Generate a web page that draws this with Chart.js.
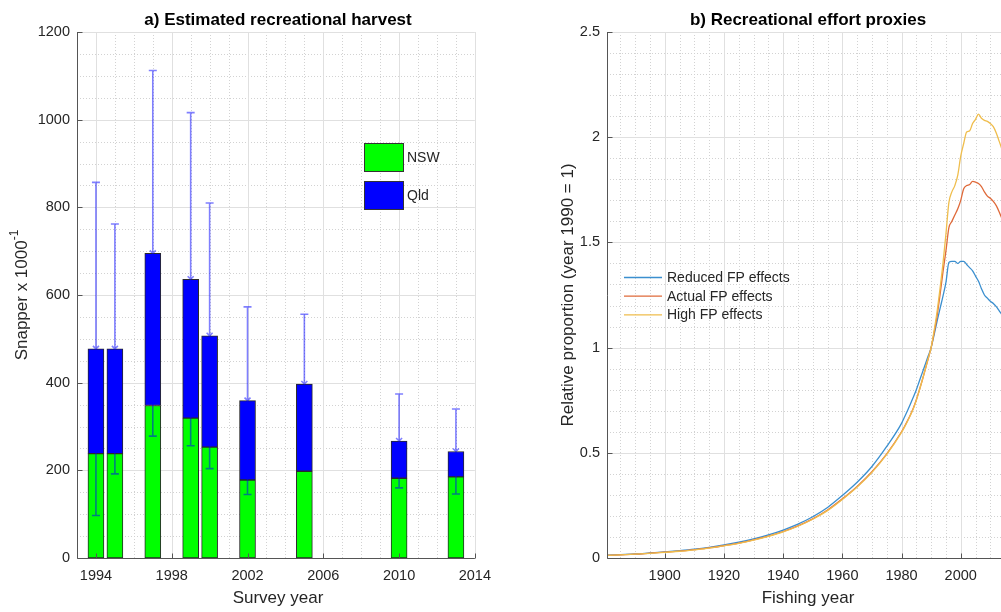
<!DOCTYPE html>
<html>
<head>
<meta charset="utf-8">
<script src="https://cdn.jsdelivr.net/npm/chart.js@4/dist/chart.umd.min.js"></script>
<style>
  html, body { margin: 0; padding: 0; background: #fff; overflow: hidden; }
  #wrap { position: relative; width: 1001px; height: 612px; }
  canvas { position: absolute; top: 0; }
  #harvest { left: 0; width: 500px; height: 612px; }
  #effort { left: 500px; width: 501px; height: 612px; }
</style>
</head>
<body>
<div id="wrap">
  <canvas id="harvest" width="500" height="612"></canvas>
  <canvas id="effort" width="501" height="612"></canvas>
</div>
<script>
// ---- Panel a: estimated recreational harvest (thousands of snapper) ----
const surveyYears  = [1994, 1995, 1997, 1999, 2000, 2002, 2005, 2010, 2013];
const nswHarvest   = [238, 238, 348, 319, 253, 178, 198, 182, 185];
const qldHarvest   = [239, 239, 347, 317, 254, 181, 199, 85, 58];
const harvestError = [380, 285, 417, 380, 303, 214, 159, 107, 97];
const surveyTicks  = [1994, 1998, 2002, 2006, 2010, 2014];
const harvestTicks = [0, 200, 400, 600, 800, 1000, 1200];

// ---- Panel b: recreational effort proxies (relative to 1990) ----
const fishingYears = [
  1880, 1885, 1890, 1895, 1900, 1905, 1910, 1915, 1920, 1925,
  1930, 1935, 1940, 1945, 1950, 1955, 1960, 1965, 1970, 1975,
  1980, 1981, 1982, 1983, 1984, 1985, 1986, 1987, 1988, 1989,
  1990, 1991, 1992, 1993, 1994, 1995, 1996, 1997, 1998, 1999,
  2000, 2001, 2002, 2003, 2004, 2005, 2006, 2007, 2008, 2009,
  2010, 2011, 2012, 2013, 2014
];
const reducedFP = [
  0.013, 0.016, 0.019, 0.024, 0.029, 0.035, 0.042, 0.051, 0.062, 0.075,
  0.091, 0.110, 0.133, 0.161, 0.196, 0.240, 0.297, 0.360, 0.435, 0.530,
  0.640, 0.670, 0.700, 0.732, 0.765, 0.800, 0.840, 0.880, 0.920, 0.960,
  1.000, 1.060, 1.125, 1.185, 1.245, 1.310, 1.405, 1.410, 1.410, 1.400,
  1.410, 1.410, 1.395, 1.380, 1.365, 1.340, 1.315, 1.280, 1.250, 1.235,
  1.220, 1.210, 1.195, 1.175, 1.155
];
const actualFP = [
  0.012, 0.015, 0.018, 0.023, 0.028, 0.033, 0.040, 0.048, 0.059, 0.071,
  0.086, 0.104, 0.126, 0.153, 0.186, 0.228, 0.281, 0.340, 0.410, 0.495,
  0.600, 0.625, 0.652, 0.681, 0.713, 0.752, 0.797, 0.845, 0.895, 0.947,
  1.000, 1.070, 1.150, 1.250, 1.360, 1.460, 1.570, 1.600, 1.630, 1.660,
  1.700, 1.755, 1.770, 1.775, 1.790, 1.787, 1.780, 1.765, 1.740, 1.720,
  1.710, 1.695, 1.675, 1.645, 1.610
];
const highFP = [
  0.012, 0.015, 0.018, 0.022, 0.027, 0.032, 0.039, 0.047, 0.058, 0.070,
  0.085, 0.103, 0.124, 0.151, 0.184, 0.225, 0.278, 0.337, 0.407, 0.492,
  0.597, 0.622, 0.649, 0.678, 0.711, 0.750, 0.796, 0.845, 0.896, 0.948,
  1.000, 1.080, 1.170, 1.280, 1.400, 1.540, 1.690, 1.740, 1.770, 1.820,
  1.910, 1.970, 2.025, 2.030, 2.065, 2.085, 2.110, 2.090, 2.080, 2.075,
  2.065, 2.050, 2.020, 1.980, 1.940
];
const fishingTicks    = [1900, 1920, 1940, 1960, 1980, 2000];
const proportionTicks = [0, 0.5, 1, 1.5, 2, 2.5];

const FONT = '"Liberation Sans", Arial, Helvetica, sans-serif';
const INK = '#262626';

function steps(min, max, step) {
  const out = [];
  for (let k = Math.ceil(min / step - 1e-9); k * step <= max + 1e-9; k++) out.push(k * step);
  return out;
}

// Grid (minor dotted, major solid), axis lines and inward tick marks
const axesFrame = {
  id: 'axesFrame',
  beforeDatasetsDraw(chart, _args, o) {
    const { ctx, chartArea: a, scales: { x, y } } = chart;
    const px = v => Math.round(x.getPixelForValue(v)) + 0.5;
    const py = v => Math.round(y.getPixelForValue(v)) + 0.5;
    ctx.save();
    ctx.lineWidth = 1;
    ctx.strokeStyle = '#d2d2d2';
    ctx.setLineDash([1, 2]);
    ctx.beginPath();
    steps(x.min, x.max, o.xMinor).forEach(v => { const p = px(v); ctx.moveTo(p, a.top); ctx.lineTo(p, a.bottom); });
    steps(y.min, y.max, o.yMinor).forEach(v => { const p = py(v); ctx.moveTo(a.left, p); ctx.lineTo(a.right, p); });
    ctx.stroke();
    ctx.setLineDash([]);
    ctx.strokeStyle = '#e0e0e0';
    ctx.beginPath();
    x.ticks.forEach(t => { const p = px(t.value); ctx.moveTo(p, a.top); ctx.lineTo(p, a.bottom); });
    y.ticks.forEach(t => { const p = py(t.value); ctx.moveTo(a.left, p); ctx.lineTo(a.right, p); });
    ctx.stroke();
    ctx.restore();
  },
  afterDatasetsDraw(chart) {
    const { ctx, chartArea: a, scales: { x, y } } = chart;
    const left = Math.round(a.left) + 0.5, bottom = Math.round(a.bottom) + 0.5;
    ctx.save();
    ctx.lineWidth = 1;
    ctx.strokeStyle = '#555555';
    ctx.beginPath();
    ctx.moveTo(left, a.top);
    ctx.lineTo(left, bottom);
    ctx.lineTo(a.right, bottom);
    x.ticks.forEach(t => { const p = Math.round(x.getPixelForValue(t.value)) + 0.5; ctx.moveTo(p, bottom); ctx.lineTo(p, bottom - 5); });
    y.ticks.forEach(t => { const p = Math.round(y.getPixelForValue(t.value)) + 0.5; ctx.moveTo(left, p); ctx.lineTo(left + 5, p); });
    ctx.stroke();
    ctx.restore();
  }
};

// Titles, axis labels and legends
const panelText = {
  id: 'panelText',
  afterDraw(chart, _args, o) {
    const { ctx } = chart;
    ctx.save();
    ctx.textAlign = 'center';
    ctx.textBaseline = 'alphabetic';
    ctx.fillStyle = '#000';
    ctx.font = `bold 17px ${FONT}`;
    ctx.fillText(o.title, o.centerX, 25);
    ctx.fillStyle = INK;
    ctx.font = `17px ${FONT}`;
    ctx.fillText(o.xTitle, o.centerX, 603);

    // rotated y label, optional superscript
    ctx.save();
    ctx.translate(o.yTitleX, o.yTitleY);
    ctx.rotate(-Math.PI / 2);
    ctx.textAlign = 'left';
    ctx.textBaseline = 'middle';
    ctx.font = `17px ${FONT}`;
    const w1 = ctx.measureText(o.yTitle).width;
    ctx.font = `12px ${FONT}`;
    const w2 = o.ySup ? ctx.measureText(o.ySup).width : 0;
    const x0 = -(w1 + w2) / 2;
    ctx.font = `17px ${FONT}`;
    ctx.fillText(o.yTitle, x0, 0);
    if (o.ySup) { ctx.font = `12px ${FONT}`; ctx.fillText(o.ySup, x0 + w1, -7); }
    ctx.restore();

    // legend
    const lg = o.legend;
    ctx.font = `14px ${FONT}`;
    ctx.textAlign = 'left';
    ctx.textBaseline = 'middle';
    chart.data.datasets.forEach((ds, i) => {
      const cy = lg.y + i * lg.gap;
      if (lg.kind === 'patch') {
        ctx.fillStyle = ds.backgroundColor;
        ctx.fillRect(lg.x, cy - lg.h / 2, lg.w, lg.h);
        ctx.strokeStyle = '#333';
        ctx.lineWidth = 1;
        ctx.strokeRect(lg.x + 0.5, cy - lg.h / 2 + 0.5, lg.w - 1, lg.h - 1);
      } else {
        ctx.strokeStyle = ds.borderColor;
        ctx.lineWidth = 1.3;
        ctx.beginPath();
        ctx.moveTo(lg.x, cy + 0.5);
        ctx.lineTo(lg.x + lg.w, cy + 0.5);
        ctx.stroke();
      }
      ctx.fillStyle = INK;
      ctx.fillText(ds.label, lg.x + lg.w + lg.textGap, cy + 1);
    });
    ctx.restore();
  }
};

// Error bars centred on the stack total
const errorBars = {
  id: 'errorBars',
  afterDatasetsDraw(chart) {
    const { ctx, scales: { x, y } } = chart;
    ctx.save();
    ctx.strokeStyle = 'rgba(0,0,255,0.5)';
    ctx.lineWidth = 1.6;
    surveyYears.forEach((yr, i) => {
      const total = nswHarvest[i] + qldHarvest[i];
      const cx = x.getPixelForValue(yr);
      const yHi = y.getPixelForValue(total + harvestError[i]);
      const yLo = y.getPixelForValue(total - harvestError[i]);
      const yMid = y.getPixelForValue(total);
      ctx.beginPath();
      ctx.moveTo(cx, yHi); ctx.lineTo(cx, yLo);
      ctx.moveTo(cx - 4, yHi); ctx.lineTo(cx + 4, yHi);
      ctx.moveTo(cx - 4, yLo); ctx.lineTo(cx + 4, yLo);
      ctx.moveTo(cx - 3, yMid - 3); ctx.lineTo(cx, yMid); ctx.lineTo(cx + 3, yMid - 3);
      ctx.stroke();
    });
    ctx.restore();
  }
};

const tickFont = { family: FONT, size: 14.5 };
const noGrid = { display: false, drawTicks: false, tickLength: 0 };

new Chart(document.getElementById('harvest'), {
  type: 'bar',
  data: {
    datasets: [
      {
        label: 'NSW',
        data: surveyYears.map((yr, i) => ({ x: yr, y: nswHarvest[i] })),
        backgroundColor: '#00ff00',
        borderColor: '#2a2a2a',
        borderWidth: 1,
        borderSkipped: false,
        barThickness: 16
      },
      {
        label: 'Qld',
        data: surveyYears.map((yr, i) => ({ x: yr, y: qldHarvest[i] })),
        backgroundColor: '#0000ff',
        borderColor: '#2a2a2a',
        borderWidth: 1,
        borderSkipped: false,
        barThickness: 16
      }
    ]
  },
  options: {
    responsive: false,
    animation: false,
    events: [],
    layout: { padding: { left: 0, right: 21, top: 32, bottom: 0 }, autoPadding: false },
    plugins: {
      legend: { display: false },
      tooltip: { enabled: false },
      axesFrame: { xMinor: 1, yMinor: 50 },
      panelText: {
        title: 'a) Estimated recreational harvest',
        xTitle: 'Survey year',
        yTitle: 'Snapper x 1000',
        ySup: '-1',
        centerX: 278,
        yTitleX: 22,
        yTitleY: 295,
        legend: { kind: 'patch', x: 364, y: 157.5, gap: 38, w: 40, h: 29, textGap: 3 }
      }
    },
    scales: {
      x: {
        type: 'linear', min: 1993, max: 2014, stacked: true, offset: false,
        grid: noGrid, border: { display: false },
        afterBuildTicks: s => { s.ticks = surveyTicks.map(v => ({ value: v })); },
        afterFit: s => { s.height = 54; },
        ticks: { padding: 9, color: INK, font: tickFont, maxRotation: 0, autoSkip: false, callback: v => String(v) }
      },
      y: {
        type: 'linear', min: 0, max: 1200, stacked: true,
        grid: noGrid, border: { display: false },
        afterBuildTicks: s => { s.ticks = harvestTicks.map(v => ({ value: v })); },
        afterFit: s => { s.width = 77; },
        ticks: { padding: 7, color: INK, font: tickFont, callback: v => String(v) }
      }
    }
  },
  plugins: [axesFrame, errorBars, panelText]
});

const toPoints = vals => fishingYears.map((yr, i) => ({ x: yr, y: vals[i] }));

new Chart(document.getElementById('effort'), {
  type: 'line',
  data: {
    datasets: [
      { label: 'Reduced FP effects', data: toPoints(reducedFP), borderColor: '#3b8fcf', order: 2 },
      { label: 'Actual FP effects', data: toPoints(actualFP), borderColor: '#df6a3a', order: 1 },
      { label: 'High FP effects', data: toPoints(highFP), borderColor: '#efbd4c', order: 0 }
    ]
  },
  options: {
    responsive: false,
    animation: false,
    events: [],
    elements: {
      point: { radius: 0 },
      line: { borderWidth: 1.3, fill: false, cubicInterpolationMode: 'monotone' }
    },
    layout: { padding: { left: 0, right: 0, top: 32, bottom: 0 }, autoPadding: false },
    plugins: {
      legend: { display: false },
      tooltip: { enabled: false },
      axesFrame: { xMinor: 5, yMinor: 0.1 },
      panelText: {
        title: 'b) Recreational effort proxies',
        xTitle: 'Fishing year',
        yTitle: 'Relative proportion (year 1990 = 1)',
        centerX: 308,
        yTitleX: 68,
        yTitleY: 295,
        legend: { kind: 'line', x: 124, y: 277, gap: 18.7, w: 38, h: 0, textGap: 5 }
      }
    },
    scales: {
      x: {
        type: 'linear', min: 1880.5, max: 2013.6,
        grid: noGrid, border: { display: false },
        afterBuildTicks: s => { s.ticks = fishingTicks.map(v => ({ value: v })); },
        afterFit: s => { s.height = 54; },
        ticks: { padding: 9, color: INK, font: tickFont, maxRotation: 0, autoSkip: false, callback: v => String(v) }
      },
      y: {
        type: 'linear', min: 0, max: 2.5,
        grid: noGrid, border: { display: false },
        afterBuildTicks: s => { s.ticks = proportionTicks.map(v => ({ value: v })); },
        afterFit: s => { s.width = 107; },
        ticks: { padding: 7, color: INK, font: tickFont, callback: v => String(v) }
      }
    }
  },
  plugins: [axesFrame, panelText]
});
</script>
</body>
</html>
